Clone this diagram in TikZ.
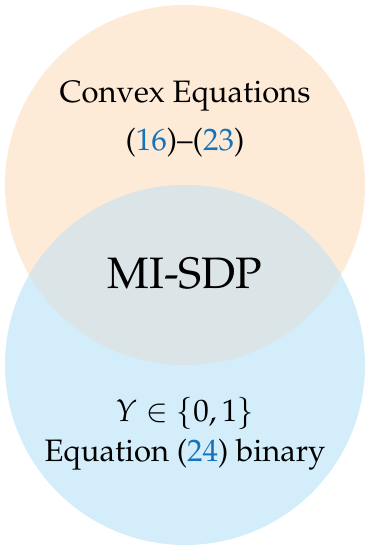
\documentclass[tikz,border=0pt]{standalone}
\usepackage[T1]{fontenc}
\usepackage{mathpazo}
\usetikzlibrary{positioning}
\definecolor{peach}{RGB}{253,234,215}
\definecolor{skyblue}{RGB}{212,237,250}
\definecolor{overlap}{RGB}{219,228,231}
\definecolor{citeblue}{RGB}{20,115,185}
\newcommand{\citeeq}[1]{(\textcolor{citeblue}{#1})}

\begin{document}
\begin{tikzpicture}[
  x=1pt, y=1pt,
  set/.style={circle, minimum size=360pt, inner sep=0pt},
  label/.style={align=center, font=\fontsize{31}{40}\selectfont},
  big/.style={font=\fontsize{44}{50}\selectfont},
]
  \useasboundingbox (0,0) rectangle (370,550);
  \node[set, fill=peach] (convex) at (185,365) {};
  \node[set, fill=skyblue] (binary) at (185,185) {};
  \begin{scope}
    \clip (convex.center) circle (180pt);
    \fill[overlap] (binary.center) circle (180pt);
  \end{scope}

  \node[label] (eqs) at (185,431) {Convex Equations\\[8pt]\citeeq{16}--\citeeq{23}};
  \node[big] (misdp) at (185,276) {MI-SDP};
  \node[label] (bin) at (185,116) {$Y \in \{0,1\}$\\Equation \citeeq{24} binary};
\end{tikzpicture}
\end{document}
